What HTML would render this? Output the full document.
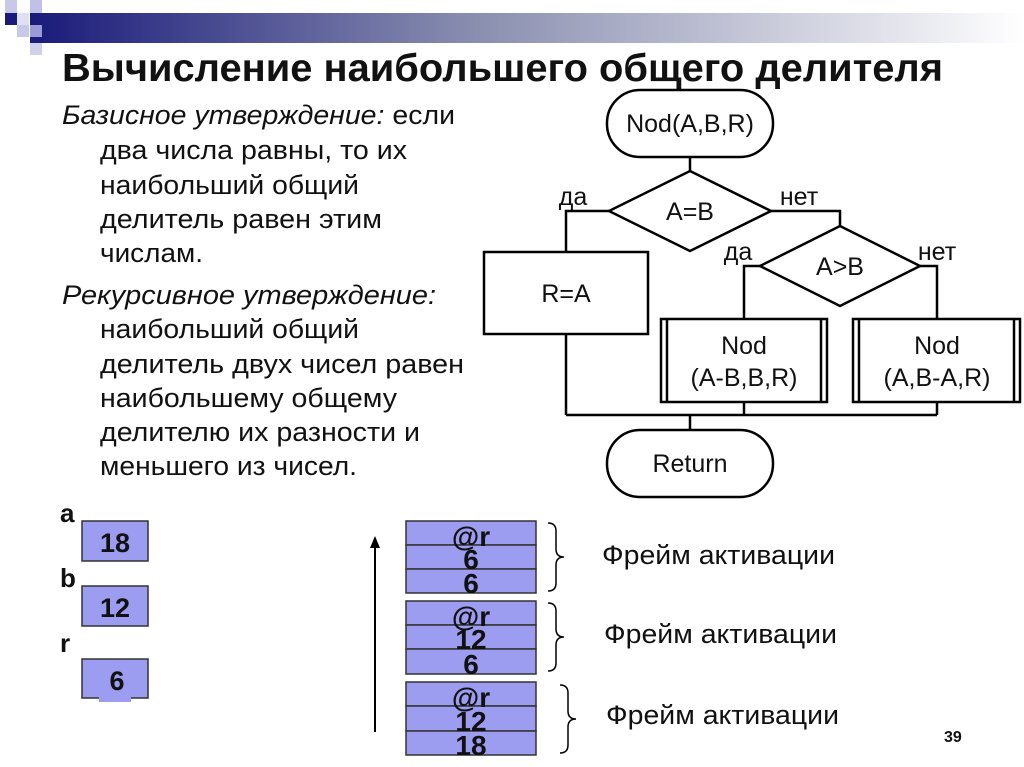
<!DOCTYPE html>
<html><head><meta charset="utf-8"><style>
html,body{margin:0;padding:0;background:#fff;width:1024px;height:767px;overflow:hidden}
svg{display:block;font-family:"Liberation Sans",sans-serif}
</style></head><body>
<svg width="1024" height="767" viewBox="0 0 1024 767" xmlns="http://www.w3.org/2000/svg">
<defs>
<linearGradient id="g" x1="0" x2="1" y1="0" y2="0">
<stop offset="0" stop-color="#1a1a7a"/><stop offset="0.45" stop-color="#8a8fb0"/><stop offset="1" stop-color="#ffffff"/>
</linearGradient>
</defs>
<rect x="30" y="13" width="994" height="30" fill="url(#g)"/>
<rect x="5" y="0" width="12" height="13" fill="#c8c8e8"/>
<rect x="5" y="13" width="12" height="12" fill="#1a1a7a"/>
<rect x="17" y="25" width="12" height="12" fill="#c8c8e8"/>
<rect x="30" y="0" width="12" height="13" fill="#c0c0e8"/>
<rect x="30" y="25" width="12" height="12" fill="#9a9ad8"/>
<rect x="17" y="13" width="12" height="12" fill="#e0e0f4"/>
<rect x="30" y="43" width="12" height="12" fill="#d0d0ec"/>
<text x="62" y="81" font-size="39" font-weight="bold" fill="#111" textLength="881" lengthAdjust="spacingAndGlyphs">Вычисление наибольшего общего делителя</text>
<g font-size="27" fill="#111">
<text x="62" y="124" textLength="393" lengthAdjust="spacingAndGlyphs"><tspan font-style="italic">Базисное утверждение:</tspan> если</text>
<text x="100" y="159" textLength="307" lengthAdjust="spacingAndGlyphs">два числа равны, то их</text>
<text x="100" y="194" textLength="259" lengthAdjust="spacingAndGlyphs">наибольший общий</text>
<text x="100" y="228" textLength="282" lengthAdjust="spacingAndGlyphs">делитель равен этим</text>
<text x="100" y="262" textLength="103" lengthAdjust="spacingAndGlyphs">числам.</text>
<text x="62" y="304" font-style="italic" textLength="374" lengthAdjust="spacingAndGlyphs">Рекурсивное утверждение:</text>
<text x="100" y="338" textLength="259" lengthAdjust="spacingAndGlyphs">наибольший общий</text>
<text x="100" y="373" textLength="364" lengthAdjust="spacingAndGlyphs">делитель двух чисел равен</text>
<text x="100" y="407" textLength="297" lengthAdjust="spacingAndGlyphs">наибольшему общему</text>
<text x="100" y="441" textLength="320" lengthAdjust="spacingAndGlyphs">делителю их разности и</text>
<text x="100" y="475" textLength="257" lengthAdjust="spacingAndGlyphs">меньшего из чисел.</text>
</g>
<g stroke="#000" stroke-width="2.5" fill="none">
<rect x="607" y="90" width="166" height="67" rx="33"/>
<line x1="690" y1="157" x2="690" y2="171"/>
<polygon points="609,211 690,171 771,211 690,251"/>
<polyline points="609,211 566,211 566,252"/>
<rect x="484" y="252" width="164" height="82"/>
<polyline points="771,211 840,211 840,226"/>
<polygon points="760,266 840,226 920,266 840,306"/>
<polyline points="760,266 744,266 744,319"/>
<polyline points="920,266 937,266 937,319"/>
<rect x="661" y="319" width="166" height="83"/>
<line x1="667" y1="319" x2="667" y2="402"/><line x1="821" y1="319" x2="821" y2="402"/>
<rect x="853" y="319" width="167" height="83"/>
<line x1="859" y1="319" x2="859" y2="402"/><line x1="1014" y1="319" x2="1014" y2="402"/>
<line x1="566" y1="334" x2="566" y2="415"/>
<line x1="744" y1="402" x2="744" y2="415"/>
<line x1="937" y1="402" x2="937" y2="415"/>
<line x1="566" y1="415" x2="937" y2="415"/>
<line x1="690" y1="415" x2="690" y2="430"/>
<rect x="607" y="430" width="166" height="67" rx="33"/>
</g>
<g font-size="25" fill="#111" text-anchor="middle">
<text x="690" y="132">Nod(A,B,R)</text>
<text x="690" y="220">A=B</text>
<text x="840" y="275">A&gt;B</text>
<text x="566" y="302">R=A</text>
<text x="744" y="354">Nod</text><text x="744" y="386">(A-B,B,R)</text>
<text x="937" y="354">Nod</text><text x="937" y="386">(A,B-A,R)</text>
<text x="690" y="472">Return</text>
<text x="573" y="205">да</text>
<text x="799" y="205">нет</text>
<text x="738" y="260">да</text>
<text x="937" y="260">нет</text>
</g>
<g font-size="26" font-weight="bold" fill="#111">
<text x="60" y="522">a</text><text x="60" y="587">b</text><text x="60" y="652">r</text>
</g>
<g stroke="#333" stroke-width="1.5" fill="#9c9cf0">
<rect x="82" y="521" width="66" height="40"/>
<rect x="82" y="586" width="66" height="40"/>
<rect x="82" y="659" width="66" height="39"/>
<rect x="99" y="697" width="32" height="5" stroke="none"/>
</g>
<g font-size="27" font-weight="bold" fill="#111" text-anchor="middle">
<text x="115" y="552">18</text><text x="115" y="617">12</text><text x="117" y="690">6</text>
</g>
<line x1="375" y1="732" x2="375" y2="545" stroke="#000" stroke-width="2"/>
<polygon points="375,536 370,548 380,548" fill="#000"/>
<g stroke="#333" stroke-width="1.5" fill="#9c9cf0">
<rect x="406" y="521" width="130" height="24"/><rect x="406" y="545" width="130" height="24"/><rect x="406" y="569" width="130" height="24"/>
<rect x="406" y="601" width="130" height="24"/><rect x="406" y="625" width="130" height="24"/><rect x="406" y="649" width="130" height="25"/>
<rect x="406" y="682" width="130" height="24"/><rect x="406" y="706" width="130" height="25"/><rect x="406" y="731" width="130" height="24"/>
</g>
<g font-size="28" font-weight="bold" fill="#111" text-anchor="middle">
<text x="471" y="546">@r</text><text x="471" y="569">6</text><text x="471" y="593">6</text>
<text x="471" y="626">@r</text><text x="471" y="649">12</text><text x="471" y="674">6</text>
<text x="471" y="707">@r</text><text x="471" y="731">12</text><text x="471" y="755">18</text>
</g>
<g stroke="#000" stroke-width="1.5" fill="none">
<path d="M548,523 q8,0 8,8 v18 q0,8 8,8 q-8,0 -8,8 v18 q0,8 -8,8"/>
<path d="M548,603 q8,0 8,8 v18 q0,8 8,8 q-8,0 -8,8 v18 q0,8 -8,8"/>
<path d="M560,685 q8,0 8,8 v18 q0,8 8,8 q-8,0 -8,8 v18 q0,8 -8,8"/>
</g>
<g font-size="27" fill="#111">
<text x="602" y="564" textLength="233" lengthAdjust="spacingAndGlyphs">Фрейм активации</text>
<text x="604" y="643" textLength="233" lengthAdjust="spacingAndGlyphs">Фрейм активации</text>
<text x="606" y="724" textLength="233" lengthAdjust="spacingAndGlyphs">Фрейм активации</text>
</g>
<text x="944" y="742" font-size="16" font-weight="bold" fill="#111">39</text>
</svg>
</body></html>
